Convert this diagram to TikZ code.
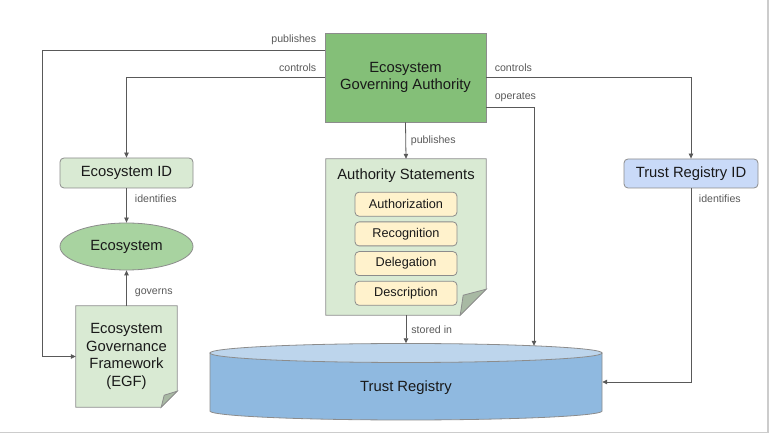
\documentclass[tikz,border=0pt]{standalone}
\usepackage{fontspec}
\setmainfont{Liberation Sans}
\usetikzlibrary{positioning,shapes.geometric,arrows.meta,backgrounds}

\definecolor{egagreen}{HTML}{84BF78}
\definecolor{palegreen}{HTML}{D9EAD3}
\definecolor{ecogreen}{HTML}{A8D3A0}
\definecolor{foldgreen}{HTML}{A8B9A3}
\definecolor{stmtyellow}{HTML}{FFF2CC}
\definecolor{idblue}{HTML}{C9DAF8}
\definecolor{trtop}{HTML}{BDD5EC}
\definecolor{trbody}{HTML}{8FB9E0}
\definecolor{shapeline}{HTML}{8C8C8C}
\definecolor{connline}{HTML}{595959}
\definecolor{pageline}{HTML}{CCCCCC}

\begin{document}
\begin{tikzpicture}[x=1pt,y=-1pt,
	box/.style={align=center, inner sep=0pt, text=black!90, font=\fontsize{14.8}{17.7}\selectfont},
	stmt/.style={box, draw=shapeline, line width=.8pt, fill=stmtyellow, rounded corners=4pt, minimum width=102pt, minimum height=24pt, font=\fontsize{12.7}{15}\selectfont},
	conn/.style={draw=connline, line width=.8pt, -{Triangle[length=5pt,width=4.5pt]}},
	lbl/.style={text=connline, inner sep=2pt, font=\fontsize{10.6}{12}\selectfont},
	shp/.style={draw=shapeline, line width=.8pt},
	]
	\useasboundingbox (0,0) rectangle (769,435);
	\def\fold{16pt}

	\node[box, shp, fill=egagreen, minimum width=161pt, minimum height=89pt] (ega) at (405.5,77.5) {Ecosystem\\Governing Authority};
	\node[box, shp, fill=palegreen, rounded corners=4pt, minimum width=133pt, minimum height=30pt] (eid) at (126.5,173) {Ecosystem ID};
	\node[box, shp, fill=ecogreen, ellipse, minimum width=133pt, minimum height=47pt] (eco) at (126.5,246.5) {Ecosystem};
	\node[box, minimum width=101pt, minimum height=101pt] (egf) at (126.5,356.5) {Ecosystem\\Governance\\Framework\\(EGF)};
	\node[box, shp, fill=idblue, rounded corners=4pt, minimum width=134pt, minimum height=29pt] (trid) at (691,173.5) {Trust Registry ID};

	\node[box, minimum width=160pt, minimum height=156pt] (as) at (406,237) {};
	\node[box] (astitle) at (406,176) {Authority Statements};
	\foreach \t [count=\i] in {Authorization,Recognition,Delegation,Description}{
		\node[stmt] (st\i) at (406,174.5+29.7*\i) {\t};
	}

	\node[box, minimum width=392pt, minimum height=77pt] (tr) at (406,382) {};
	\node[box] (trtitle) at (406,387.5) {Trust Registry};
	\coordinate (opend) at (534,345.8);

	\begin{scope}[on background layer]
		\filldraw[shp, fill=palegreen] (egf.north west) -- (egf.north east) -- ([yshift=\fold]egf.south east) -- ([xshift=-\fold]egf.south east) -- (egf.south west) -- cycle;
		\filldraw[shp, fill=foldgreen] ([xshift=-\fold]egf.south east) -- ([xshift=-13pt,yshift=12pt]egf.south east) -- ([yshift=\fold]egf.south east) -- cycle;
		\filldraw[shp, fill=palegreen] (as.north west) -- (as.north east) -- ([yshift=26pt]as.south east) -- ([xshift=-26pt]as.south east) -- (as.south west) -- cycle;
		\filldraw[shp, fill=foldgreen] ([xshift=-26pt]as.south east) -- ([xshift=-23pt,yshift=20pt]as.south east) -- ([yshift=26pt]as.south east) -- cycle;

		\filldraw[shp, fill=trbody] (210,353) -- plot[domain=180:360, samples=60] ({406+196*cos(\x)},{411-9*sin(\x)}) -- (602,353) -- cycle;
		\filldraw[shp, fill=trtop] (406,353) ellipse[x radius=196, y radius=9.5];
	\end{scope}

	\draw[conn] ([yshift=27pt]ega.west) node[lbl, above left=3.5pt and 6pt] {publishes} -- ++(-282.5,0) |- (egf.west);
	\draw[conn] (ega.west) node[lbl, above left=3.5pt and 6pt] {controls} -| (eid.north);
	\draw[conn] (ega.east) node[lbl, above right=3.5pt and 6pt] {controls} -| (trid.north);
	\draw[conn] ([yshift=-30pt]ega.east) node[lbl, above right=3.5pt and 6pt] {operates} -| (opend);
	\draw[conn] (ega.south) node[lbl, below right=11pt and 3pt] {publishes} -- (as.north);
	\draw[conn] (eid.south) node[lbl, below right=4.4pt and 6pt] {identifies} -- (eco.south |- eco.north);
	\draw[conn] (egf.north) node[lbl, above right=6.4pt and 6pt] {governs} -- (eco.south);
	\draw[conn] (as.south) node[lbl, below right=8pt and 3pt] {stored in} -- (tr.north);
	\draw[conn] (trid.south) node[lbl, below right=4.4pt and 5.5pt] {identifies} |- (tr.east);

	\draw[pageline, line width=1.2pt] (768,0) -- (768,432.5) -- (0,432.5);
\end{tikzpicture}
\end{document}
